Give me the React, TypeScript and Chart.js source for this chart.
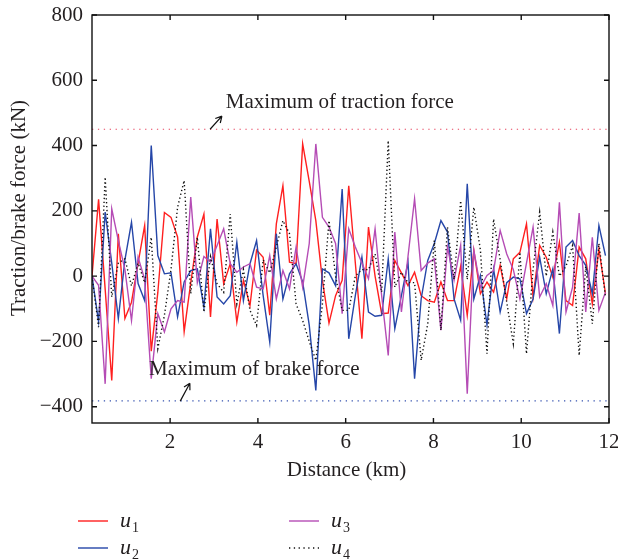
import React, { useEffect, useRef } from "react";
import { Chart, registerables } from "chart.js";

Chart.register(...registerables);

// ---------------- data ----------------
const distanceKm = [
  0.22, 0.37, 0.52, 0.67, 0.82, 0.97, 1.12, 1.27, 1.42, 1.57,
  1.72, 1.87, 2.02, 2.17, 2.32, 2.47, 2.62, 2.77, 2.92, 3.07,
  3.22, 3.37, 3.52, 3.67, 3.82, 3.97, 4.12, 4.27, 4.42, 4.57,
  4.72, 4.87, 5.02, 5.17, 5.32, 5.47, 5.62, 5.77, 5.92, 6.07,
  6.22, 6.37, 6.52, 6.67, 6.82, 6.97, 7.12, 7.27, 7.42, 7.57,
  7.72, 7.87, 8.02, 8.17, 8.32, 8.47, 8.62, 8.77, 8.92, 9.07,
  9.22, 9.37, 9.52, 9.67, 9.82, 9.97, 10.12, 10.27, 10.42, 10.57,
  10.72, 10.87, 11.02, 11.17, 11.32, 11.47, 11.62, 11.77, 11.92,
];

const u1 = [
  0, 235, -40, -320, 130, -130, -80, 40, 155, -230,
  -50, 195, 180, 120, -170, -20, 120, 190, -125, 175,
  -23, 38, -141, -13, -90, 80, 58, -120, 160, 277,
  43, 38, 405, 290, 170, -13, -144, -60, -13, 277,
  40, -192, 150, 0, -115, -113, 48, 10, -29, 12,
  -60, -75, -80, -18, -75, -75, 30, -120, 79, -54,
  -18, -49, 33, -69, 53, 73, 160, -64, 94, 58,
  -3, 104, -75, -90, 89, 53, -85, 84, -54,
];

const u2 = [
  0, -140, 196, 40, -130, 50, 165, -23, -75, 400,
  63, 7, 10, -125, -18, 17, 22, -95, 145, -64,
  -85, -60, 104, -75, 38, 109, -60, -202, 130, -70,
  7, 38, -18, -150, -350, 22, 10, -29, 267, -192,
  -60, 58, -110, -123, -120, 53, -161, -60, 43, -314,
  -70, 48, 100, 170, 135, -70, -135, 283, -70, 2,
  -150, 22, -110, -20, -3, -8, -115, -70, 58, -54,
  22, -176, 89, 109, 63, 33, -54, 155, 63,
];

const u3 = [
  0, -28, -330, 206, 109, 20, -136, 58, -10, -314,
  -115, -171, -100, -75, -80, 242, -20, 60, 43, 94,
  145, 38, 12, 28, 38, -34, -39, 63, -70, 17,
  -39, 89, -34, 100, 405, 180, 150, 100, -115, 145,
  89, 40, -8, 145, -60, -243, 135, -110, 60, 237,
  17, 40, 53, -166, 89, -13, 94, -360, 79, -34,
  2, 17, 140, 68, 20, -70, 40, 150, -64, -23,
  -90, 226, -110, -34, 193, -110, 119, -105, -49,
];

const u4 = [
  0, -156, 303, -64, 40, 53, -30, 40, -20, 119,
  -222, -120, 20, 211, 293, -54, 119, -110, 60, -23,
  -50, 190, -85, 20, -105, -151, 50, 10, 89, 170,
  130, -85, -136, -200, -258, -85, 170, 0, -105, -105,
  0, 20, 20, 68, -49, 415, -34, 12, -20, -20,
  -258, -146, 109, -166, 150, -10, 231, -10, 211, 80,
  -238, 175, 50, -80, -207, 73, -238, 20, 196, 0,
  135, 0, 30, 94, -243, 30, -146, 100, -64,
];

const xTicks = [2, 4, 6, 8, 10, 12];
const yTicks = [-400, -200, 0, 200, 400, 600, 800];
const xMin = 0.22;
const xMax = 12;
const yMin = -450;
const yMax = 800;
const tractionMax = 450;
const brakeMax = -382;

const seriesNames = ["1", "2", "3", "4"];
const seriesColors = ["#ff1f1f", "#2546a8", "#b54cb5", "#111111"];

const SERIF = '"Liberation Serif", "Times New Roman", serif';

const pairs = (vals: number[]) => vals.map((v, i) => ({ x: distanceKm[i], y: v }));
const flat = (v: number) => [
  { x: xMin, y: v },
  { x: xMax, y: v },
];

function arrow(ctx: CanvasRenderingContext2D, x0: number, y0: number, x1: number, y1: number) {
  ctx.beginPath();
  ctx.moveTo(x0, y0);
  ctx.lineTo(x1, y1);
  const ang = Math.atan2(y1 - y0, x1 - x0);
  const L = 7;
  ctx.moveTo(x1, y1);
  ctx.lineTo(x1 - L * Math.cos(ang - 0.5), y1 - L * Math.sin(ang - 0.5));
  ctx.moveTo(x1, y1);
  ctx.lineTo(x1 - L * Math.cos(ang + 0.5), y1 - L * Math.sin(ang + 0.5));
  ctx.stroke();
}

const decorPlugin = {
  id: "decor",
  afterDraw(chart: any) {
    const { ctx, chartArea: a } = chart;
    const x = chart.scales.x;
    const y = chart.scales.y;
    ctx.save();
    // frame
    ctx.strokeStyle = "#111";
    ctx.lineWidth = 1.4;
    ctx.strokeRect(a.left, a.top, a.right - a.left, a.bottom - a.top);
    // inward ticks
    ctx.beginPath();
    for (const v of xTicks) {
      const px = x.getPixelForValue(v);
      ctx.moveTo(px, a.bottom);
      ctx.lineTo(px, a.bottom - 5);
      ctx.moveTo(px, a.top);
      ctx.lineTo(px, a.top + 5);
    }
    for (const v of yTicks) {
      const py = y.getPixelForValue(v);
      ctx.moveTo(a.left, py);
      ctx.lineTo(a.left + 5, py);
      ctx.moveTo(a.right, py);
      ctx.lineTo(a.right - 5, py);
    }
    ctx.stroke();

    // tick labels
    ctx.fillStyle = "#231f20";
    ctx.font = `21px ${SERIF}`;
    ctx.textAlign = "center";
    ctx.textBaseline = "middle";
    for (const v of xTicks) {
      ctx.fillText(String(v), x.getPixelForValue(v), a.bottom + 19);
    }
    ctx.textAlign = "right";
    for (const v of yTicks) {
      const s = v < 0 ? "\u2212" + Math.abs(v) : String(v);
      ctx.fillText(s, a.left - 9, y.getPixelForValue(v));
    }

    // axis titles
    ctx.textAlign = "center";
    ctx.fillText("Distance (km)", (a.left + a.right) / 2 - 4, 470);
    ctx.save();
    ctx.translate(19, 208);
    ctx.rotate(-Math.PI / 2);
    ctx.fillText("Traction/brake force (kN)", 0, 0);
    ctx.restore();

    // annotations
    ctx.textAlign = "left";
    ctx.textBaseline = "alphabetic";
    ctx.fillText("Maximum of traction force", x.getPixelForValue(3.27), y.getPixelForValue(515));
    ctx.fillText("Maximum of brake force", x.getPixelForValue(1.52), y.getPixelForValue(-303));
    ctx.strokeStyle = "#111";
    ctx.lineWidth = 1.2;
    arrow(ctx, x.getPixelForValue(2.91), y.getPixelForValue(450), x.getPixelForValue(3.18), y.getPixelForValue(490));
    arrow(ctx, x.getPixelForValue(2.23), y.getPixelForValue(-383), x.getPixelForValue(2.45), y.getPixelForValue(-328));

    // legend
    const items = [
      { lx: 78, ly: 521, i: 0 },
      { lx: 78, ly: 548, i: 1 },
      { lx: 289, ly: 521, i: 2 },
      { lx: 289, ly: 548, i: 3 },
    ];
    for (const it of items) {
      ctx.strokeStyle = seriesColors[it.i];
      ctx.lineWidth = it.i === 3 ? 1.3 : 1.4;
      ctx.setLineDash(it.i === 3 ? [1.3, 3.5] : []);
      ctx.beginPath();
      ctx.moveTo(it.lx, it.ly);
      ctx.lineTo(it.lx + 30, it.ly);
      ctx.stroke();
      ctx.setLineDash([]);
      ctx.fillStyle = "#231f20";
      ctx.font = `italic 22px ${SERIF}`;
      const tx = it.lx + 42;
      ctx.fillText("u", tx, it.ly + 6);
      const w = ctx.measureText("u").width;
      ctx.font = `14px ${SERIF}`;
      ctx.fillText(seriesNames[it.i], tx + w + 1, it.ly + 11);
    }
    ctx.restore();
  },
};

export default function App() {
  const ref = useRef<HTMLCanvasElement | null>(null);

  useEffect(() => {
    document.body.style.margin = "0";
    const canvas = ref.current;
    if (!canvas) return;
    const chart = new Chart(canvas, {
      type: "line",
      data: {
        datasets: [
          { label: "u1", data: pairs(u1), borderColor: seriesColors[0], borderWidth: 1.4, order: 4 },
          { label: "u2", data: pairs(u2), borderColor: seriesColors[1], borderWidth: 1.4, order: 3 },
          { label: "u3", data: pairs(u3), borderColor: seriesColors[2], borderWidth: 1.4, order: 2 },
          {
            label: "u4",
            data: pairs(u4),
            borderColor: seriesColors[3],
            borderWidth: 1.4,
            borderDash: [1.3, 2.6],
            order: 1,
          },
          {
            label: "traction max",
            data: flat(tractionMax),
            borderColor: "#e8455f",
            borderWidth: 1.2,
            borderDash: [1.3, 4.6],
            order: 0,
          },
          {
            label: "brake max",
            data: flat(brakeMax),
            borderColor: "#3552b0",
            borderWidth: 1.2,
            borderDash: [1.3, 4.6],
            order: 0,
          },
        ] as any,
      },
      options: {
        animation: false,
        responsive: false,
        elements: { point: { radius: 0 }, line: { tension: 0 } },
        layout: { padding: { left: 92, right: 9, top: 15, bottom: 137 } },
        plugins: { legend: { display: false }, tooltip: { enabled: false } },
        scales: {
          x: { type: "linear", min: xMin, max: xMax, display: false },
          y: { type: "linear", min: yMin, max: yMax, display: false },
        },
      },
      plugins: [decorPlugin],
    });
    return () => chart.destroy();
  }, []);

  return (
    <div style={{ width: 618, height: 560 }}>
      <canvas ref={ref} width={618} height={560} style={{ display: "block" }} />
    </div>
  );
}
